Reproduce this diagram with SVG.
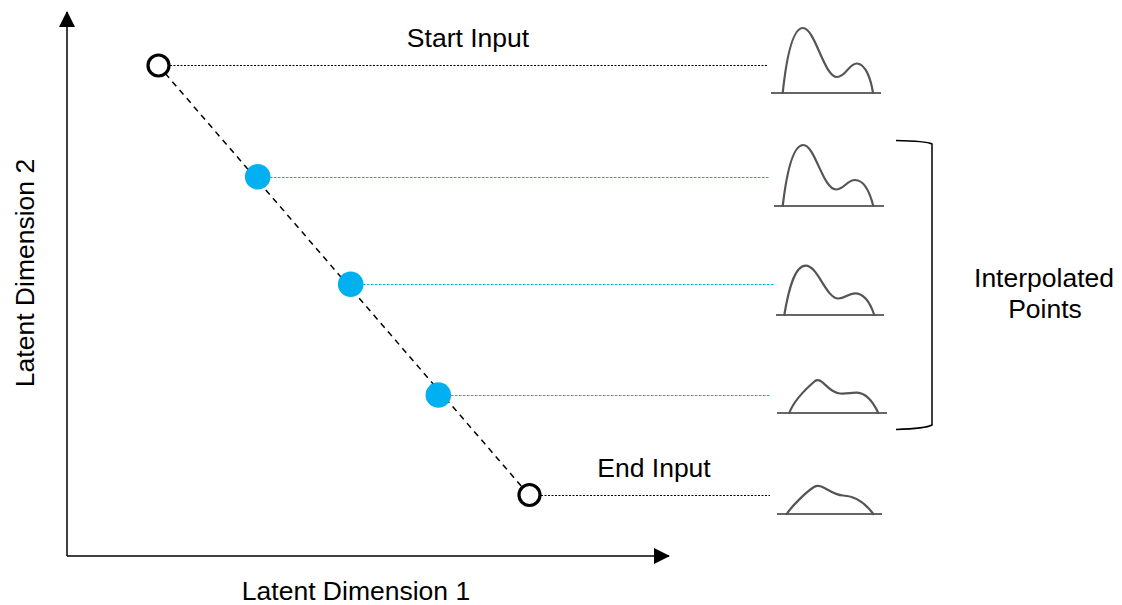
<svg xmlns="http://www.w3.org/2000/svg" width="1122" height="605" viewBox="0 0 1122 605">
<defs>
<marker id="arr" viewBox="0 0 16 16" refX="15" refY="8" markerWidth="16" markerHeight="16" markerUnits="userSpaceOnUse" orient="auto">
<path d="M0,0 L16,8 L0,16 Z" fill="#000"/>
</marker>
<style>
.lbl{font-family:"Liberation Sans",Arial,sans-serif;font-size:26.5px;fill:#000;text-anchor:middle}
.axis{stroke:#000;stroke-width:1.5;fill:none}
.diag{stroke:#000;stroke-width:1.5;stroke-dasharray:6 5;fill:none}
.dotk{stroke:#000;stroke-width:1;stroke-dasharray:2 1.5;fill:none}
.dotb{stroke:#00B0F0;stroke-width:1.2;stroke-dasharray:2.5 1.5;fill:none}
.ring{fill:#fff;stroke:#000;stroke-width:3.2}
.blue{fill:#00B0F0}
.curve{fill:none;stroke:#555;stroke-width:2.2;stroke-linecap:round}
.base{stroke:#666;stroke-width:2.2}
.brk{fill:none;stroke:#000;stroke-width:1.5}
</style>
</defs>
<g id="connectors">
<line class="axis" x1="67" y1="556" x2="67" y2="12" marker-end="url(#arr)"/>
<line class="axis" x1="67" y1="556" x2="669" y2="556" marker-end="url(#arr)"/>
<line class="diag" x1="158" y1="65" x2="529" y2="495"/>
<line class="dotk" x1="170" y1="65.5" x2="768" y2="65.5"/>
<line class="dotb" x1="270" y1="177.5" x2="770" y2="177.5"/>
<line class="dotb" x1="363" y1="284.5" x2="775" y2="284.5"/>
<line class="dotb" x1="451" y1="395.5" x2="770" y2="395.5"/>
<line class="dotk" x1="541" y1="495.5" x2="770" y2="495.5"/>
</g>
<g id="start-node"><circle class="ring" cx="158.5" cy="65.5" r="10.5"/></g>
<g id="end-node"><circle class="ring" cx="529.5" cy="495" r="10.5"/></g>
<g id="point-1"><circle class="blue" cx="257.7" cy="176.7" r="12.8"/></g>
<g id="point-2"><circle class="blue" cx="350.7" cy="284.3" r="12.8"/></g>
<g id="point-3"><circle class="blue" cx="438.3" cy="395" r="12.8"/></g>
<g id="curve-1">
<line class="base" x1="771" y1="93" x2="881" y2="93"/>
<path class="curve" d="M782.7,93 C786,62 792,28 803,28 C815,28 824,77 837,77 C846,77 849,63 857,63.5 C866,64 871,80 873,93"/>
</g>
<g id="curve-2">
<line class="base" x1="774" y1="206" x2="884" y2="206"/>
<path class="curve" d="M782.7,206 C786,178 792,145 803.3,145 C815,145 823,189.5 836,189.5 C844,189.5 847,180 855,180 C864,180 870,193 873.3,206"/>
</g>
<g id="curve-3">
<line class="base" x1="776" y1="315" x2="884" y2="315"/>
<path class="curve" d="M784.3,315 C788,293 794,265.7 805.7,265.7 C818,265.7 826,298.5 838.3,298.5 C845,298.5 848,293.3 855,293.3 C865,293.3 871,305 874.3,315"/>
</g>
<g id="curve-4">
<line class="base" x1="777" y1="413" x2="887" y2="413"/>
<path class="curve" d="M789.3,413 C794,400 808,387 815,381 C822,376 828,393 840,393.5 C847,394 851,392.5 857,392.7 C867,393 874,404 878.3,413"/>
</g>
<g id="curve-5">
<line class="base" x1="777" y1="514" x2="882" y2="514"/>
<path class="curve" d="M786.7,514 C792,506 806,492 814,487 C822,482 830,495 843,495.5 C856,496 866,504 873.3,514"/>
</g>
<g id="bracket"><path class="brk" d="M896,140.5 Q926,141 932,144 L932,425 Q926,428.5 896,429.5"/></g>
<g id="labels">
<text class="lbl" x="468" y="46.7">Start Input</text>
<text class="lbl" x="654" y="476.7">End Input</text>
<text class="lbl" x="1044" y="286.7">Interpolated</text>
<text class="lbl" x="1045" y="318">Points</text>
<text class="lbl" x="356" y="600">Latent Dimension 1</text>
<text class="lbl" transform="translate(34,273) rotate(-90)" x="0" y="0">Latent Dimension 2</text>
</g>
</svg>
